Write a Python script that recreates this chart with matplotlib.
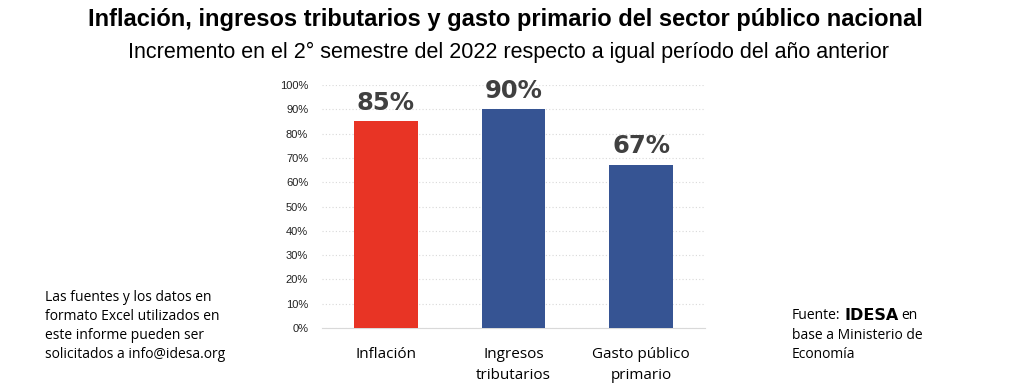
import matplotlib
matplotlib.use("Agg")
import matplotlib.pyplot as plt
from matplotlib.ticker import PercentFormatter

categories = ["Inflación", "Ingresos\ntributarios", "Gasto público\nprimario"]
values = [0.85, 0.90, 0.67]
labels = ["85%", "90%", "67%"]
colors = ["#E83425", "#365493", "#365493"]
yticks = [i / 10 for i in range(11)]

plt.rcParams['font.family'] = ['Liberation Sans', 'DejaVu Sans']
OPEN = ['Open Sans', 'DejaVu Sans']

fig = plt.figure(figsize=(10.24, 3.91), dpi=100)
ax = fig.add_axes([0.3145, 0.161, 0.374, 0.6216])

x = list(range(len(categories)))
ax.bar(x, values, width=0.5, color=colors, zorder=3)
for xi, v, lab in zip(x, values, labels):
    ax.text(xi, v + 0.028, lab, ha='center', va='bottom', fontsize=17.5,
            fontweight='bold', color='#404040', zorder=4, family=['DejaVu Sans'])

ax.set_xlim(-0.5, 2.5)
ax.set_ylim(0, 1.0)
ax.set_yticks(yticks)
ax.yaxis.set_major_formatter(PercentFormatter(1.0, decimals=0))
ax.grid(axis='y', color='#d9d9d9', linestyle=(0, (1, 2)), linewidth=0.8, zorder=0)
for s in ['top', 'right', 'left']:
    ax.spines[s].set_visible(False)
ax.spines['bottom'].set_color('#d9d9d9')
ax.tick_params(axis='y', length=0, labelsize=8, pad=10, labelcolor='#222222')
ax.tick_params(axis='x', length=0, labelsize=11, pad=14)
ax.set_xticks(x)
ax.set_xticklabels(categories, fontfamily=OPEN, linespacing=1.5)

fig.text(0.494, 0.951, "Inflación, ingresos tributarios y gasto primario del sector público nacional",
         ha='center', va='center', fontsize=17, fontweight='bold')
fig.text(0.497, 0.865, "Incremento en el 2° semestre del 2022 respecto a igual período del año anterior",
         ha='center', va='center', fontsize=15.5)

fig.text(0.044, 0.167, "Las fuentes y los datos en\nformato Excel utilizados en\neste informe pueden ser\nsolicitados a info@idesa.org",
         ha='left', va='center', fontsize=10, family=OPEN, linespacing=1.36)

t1 = fig.text(0.773, 0.192, "Fuente:", ha='left', va='center', fontsize=10, family=OPEN)
a2 = ax.annotate("IDESA", xy=(1, 0.5), xycoords=t1, xytext=(3, 0), textcoords='offset points',
                 ha='left', va='center', fontsize=11.5, fontweight='bold',
                 family=['DejaVu Sans'], annotation_clip=False)
ax.annotate("en", xy=(1, 0.5), xycoords=a2, xytext=(2, 0), textcoords='offset points',
            ha='left', va='center', fontsize=10, family=OPEN, annotation_clip=False)
fig.text(0.773, 0.141, "base a Ministerio de", ha='left', va='center', fontsize=10, family=OPEN)
fig.text(0.773, 0.094, "Economía", ha='left', va='center', fontsize=10, family=OPEN)

fig.savefig("out.png", dpi=100, facecolor='white')
